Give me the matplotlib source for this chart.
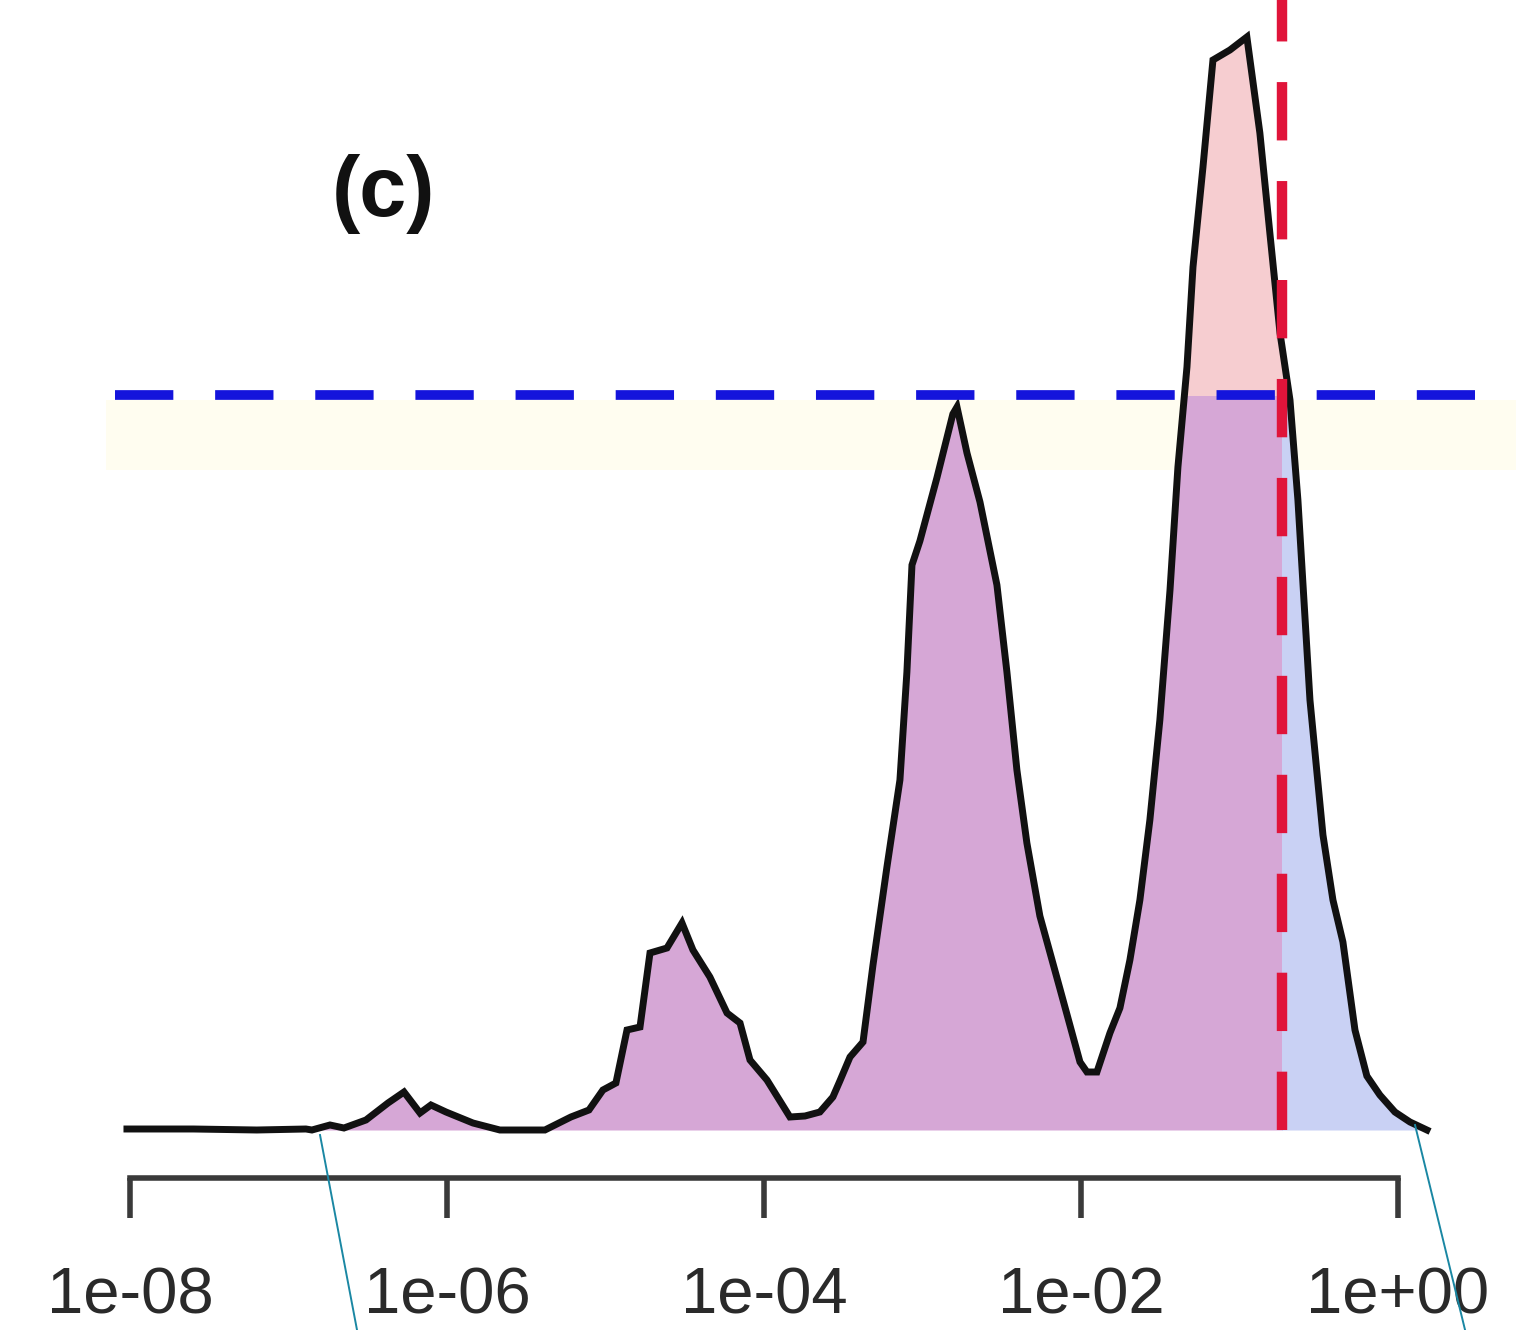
import numpy as np
import matplotlib
matplotlib.use("Agg")
import matplotlib.pyplot as plt
from matplotlib.patches import Rectangle
from matplotlib.lines import Line2D

# Density of p-values on a log10 scale
log10_p = [
    -8.019, -7.600, -7.200, -6.890, -6.852, -6.738, -6.650, -6.511, -6.372, -6.271,
    -6.170, -6.101, -6.006, -5.836, -5.666, -5.382, -5.218, -5.104, -5.016, -4.934,
    -4.864, -4.782, -4.719, -4.612, -4.517, -4.448, -4.341, -4.233, -4.151, -4.088,
    -3.981, -3.836, -3.741, -3.647, -3.565, -3.521, -3.457, -3.375, -3.312, -3.224,
    -3.142, -3.098, -3.066, -3.016, -2.909, -2.808, -2.782, -2.719, -2.637, -2.530,
    -2.467, -2.404, -2.341, -2.259, -2.132, -2.006, -1.962, -1.899, -1.817, -1.754,
    -1.691, -1.628, -1.565, -1.502, -1.438, -1.388, -1.331, -1.293, -1.230, -1.167,
    -1.060, -0.953, -0.871, -0.808, -0.744, -0.681, -0.631, -0.555, -0.473, -0.410,
    -0.347, -0.271, -0.196, -0.114, -0.019, 0.076, 0.183,
]
density = [
    0.001, 0.001, 0.000, 0.001, 0.000, 0.005, 0.002, 0.010, 0.027, 0.038,
    0.017, 0.025, 0.018, 0.007, 0.000, 0.000, 0.013, 0.020, 0.040, 0.047,
    0.100, 0.103, 0.177, 0.182, 0.207, 0.180, 0.153, 0.117, 0.107, 0.070,
    0.050, 0.013, 0.014, 0.018, 0.033, 0.049, 0.073, 0.088, 0.165, 0.263,
    0.350, 0.458, 0.565, 0.589, 0.652, 0.716, 0.723, 0.677, 0.628, 0.545,
    0.458, 0.360, 0.287, 0.214, 0.141, 0.068, 0.058, 0.058, 0.097, 0.122,
    0.170, 0.230, 0.310, 0.410, 0.540, 0.663, 0.763, 0.863, 0.963, 1.070,
    1.080, 1.093, 0.997, 0.897, 0.797, 0.730, 0.630, 0.430, 0.295, 0.230,
    0.188, 0.100, 0.054, 0.035, 0.018, 0.008, 0.000,
]

tick_exps = [-8, -6, -4, -2, 0]
tick_labels = ["1e-08", "1e-06", "1e-04", "1e-02", "1e+00"]

cutoff_log10 = -0.732      # vertical threshold (red)
density_level = 0.735      # horizontal threshold (blue)

plt.rcParams["font.family"] = ["Liberation Sans", "DejaVu Sans"]

fig = plt.figure(figsize=(15.16, 13.30), dpi=100)
ax = fig.add_axes([0, 0, 1, 1])
ax.set_xlim(-8.820, 0.745)
ax.set_ylim(-0.200, 1.130)
ax.patch.set_visible(False)

x = np.array(log10_p)
y = np.array(density)

# faint band just below the horizontal threshold
ax.axhspan(0.660, 0.730, xmin=0.07, xmax=1.0, color="#fffdf0", lw=0, zorder=0)

# shaded regions under the curve, split by both thresholds
regions = [
    ("#d6a7d6", (-9.0, -0.01, cutoff_log10, density_level)),
    ("#f6cdd0", (-9.0, density_level, 1.0, 2.0)),
    ("#c9d1f4", (cutoff_log10, -0.01, 1.0, density_level)),
]
for color, (x0, y0, x1, y1) in regions:
    poly = ax.fill_between(x, 0, y, color=color, lw=0, zorder=1)
    clip = Rectangle((x0, y0), x1 - x0, y1 - y0, transform=ax.transData)
    poly.set_clip_path(clip)

ax.plot(x, y, color="#111111", lw=5.0, solid_joinstyle="miter", zorder=3)

ax.axhline(density_level, xmin=0.0759, xmax=0.973, color="#1414dc", lw=7,
           dashes=(6, 4.3), dash_capstyle="butt", zorder=4)
ax.vlines(cutoff_log10, 0, 1.2, color="#e0143a", lw=7.5,
          linestyles=[(0, (5.6, 3.9))], capstyle="butt", zorder=5)

# axis
for side in ("top", "left", "right"):
    ax.spines[side].set_visible(False)
ax.spines["bottom"].set_position(("data", -0.048))
ax.spines["bottom"].set_bounds(tick_exps[0], tick_exps[-1])
ax.spines["bottom"].set_linewidth(4.0)
ax.spines["bottom"].set_color("#3a3a3a")
ax.set_yticks([])
ax.set_xticks(tick_exps)
ax.set_xticklabels(tick_labels)
ax.tick_params(axis="x", direction="out", length=29, width=4.0, color="#3a3a3a",
               pad=35, labelsize=47, labelcolor="#2a2a2a")

fig.text(0.253, 0.8376, "(c)", ha="center", va="baseline", fontsize=61,
         fontweight="bold", color="#111111")

# connector lines running off the bottom edge
for (xa, ya), (xb, yb) in [((0.2111, 0.1466), (0.2355, 0.0)),
                           ((0.9334, 0.1541), (0.9664, 0.0))]:
    fig.add_artist(Line2D([xa, xb], [ya, yb], transform=fig.transFigure,
                          color="#1a87a3", lw=1.4))

fig.savefig("out.png", dpi=100, facecolor="white")
